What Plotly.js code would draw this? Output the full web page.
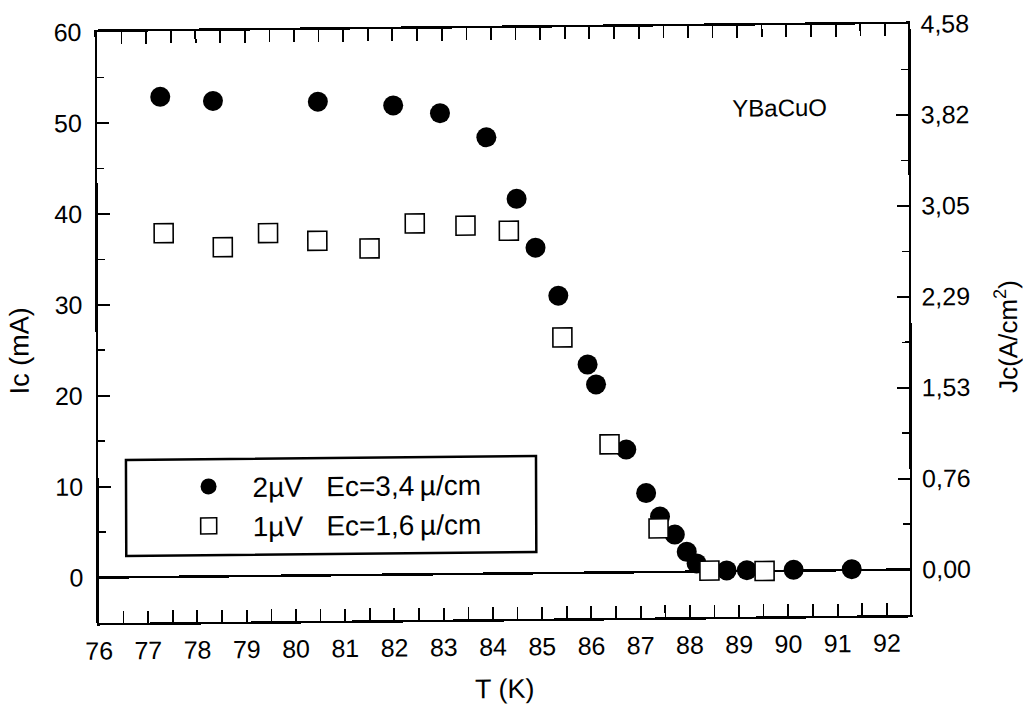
<!DOCTYPE html>
<html>
<head>
<meta charset="utf-8">
<script src="https://cdn.plot.ly/plotly-3.0.1.min.js"></script>
<style>
  html, body { margin: 0; padding: 0; background: #fff; overflow: hidden; }
  #chart { width: 1023px; height: 704px; transform-origin: 503.6px 323.5px; transform: matrix(1, -0.0099, 0.0034, 1, 0, 0); }
</style>
</head>
<body>
<div id="chart"></div>
<script>
// Data
const circlesT = [77.28, 78.35, 80.48, 82.01, 82.96, 83.90, 84.51, 84.89, 85.35, 85.94, 86.11, 86.72, 87.12, 87.40, 87.70, 87.94, 88.14, 88.75, 89.16, 90.11, 91.29];
const circlesIc = [52.8, 52.3, 52.1, 51.6, 50.7, 48.0, 41.2, 35.8, 30.5, 22.9, 20.7, 13.5, 8.7, 6.1, 4.1, 2.2, 0.9, 0.1, 0.1, 0.1, 0.1];
const squaresT = [77.34, 78.54, 79.46, 80.46, 81.52, 82.44, 83.47, 84.35, 85.43, 86.38, 87.37, 88.40, 89.52];
const squaresIc = [37.8, 36.2, 37.7, 36.8, 35.9, 38.6, 38.3, 37.7, 25.9, 14.1, 4.8, 0.1, 0.0];

const xTickVals = [76, 77, 78, 79, 80, 81, 82, 83, 84, 85, 86, 87, 88, 89, 90, 91, 92];
const leftTickVals = [0, 10, 20, 30, 40, 50, 60];
const rightTickText = ['0,00', '0,76', '1,53', '2,29', '3,05', '3,82', '4,58'];

const seriesNames = ['2\u00B5V&#160;&#160;&#160;Ec=3,4\u2009\u00B5/cm', '1\u00B5V&#160;&#160;&#160;Ec=1,6\u2009\u00B5/cm'];

const FONT = 'Arial, "Liberation Sans", Helvetica, sans-serif';

const traces = [
  {
    x: circlesT, y: circlesIc, type: 'scatter', mode: 'markers',
    name: seriesNames[0], xaxis: 'x', yaxis: 'y',
    marker: { symbol: 'circle', size: 20, color: '#000', line: { width: 0 } },
    legendgroup: 'a'
  },
  {
    x: squaresT, y: squaresIc, type: 'scatter', mode: 'markers',
    name: seriesNames[1], xaxis: 'x', yaxis: 'y2',
    marker: { symbol: 'square', size: 19, color: '#fff', line: { width: 1.6, color: '#000' } },
    legendgroup: 'b'
  }
];

const axisCommon = {
  showgrid: false, zeroline: false, showline: true, linecolor: '#000', linewidth: 2.5,
  ticks: 'inside', ticklen: 12, tickwidth: 2, tickcolor: '#000',
  tickfont: { family: FONT, size: 25, color: '#000' }
};

const layout = {
  width: 1023, height: 704,
  paper_bgcolor: '#fff', plot_bgcolor: '#fff',
  margin: { l: 98, r: 114, t: 28, b: 85 },
  font: { family: FONT, color: '#000' },
  showlegend: true,
  legend: {
    x: 0.0814, y: 0.271, xanchor: 'left', yanchor: 'top',
    bgcolor: 'rgba(255,255,255,0)', borderwidth: 0,
    font: { family: FONT, size: 28, color: '#000' },
    itemwidth: 78, tracegroupgap: 0, traceorder: 'grouped'
  },
  shapes: [
    { type: 'rect', xref: 'paper', yref: 'paper', x0: 0.0339, x1: 0.5395, y0: 0.1129, y1: 0.2753,
      line: { color: '#000', width: 2.5 }, fillcolor: '#fff', layer: 'below' }
  ],
  xaxis: Object.assign({}, axisCommon, {
    range: [76, 92.47], tickvals: xTickVals, mirror: 'allticks', ticklabelstandoff: 4,
    minor: { dtick: 0.5, tick0: 76, ticks: 'inside', ticklen: 6, tickwidth: 1.5, tickcolor: '#000' },
    title: { text: 'T (K)', font: { family: FONT, size: 27, color: '#000' }, standoff: 21 }
  }),
  yaxis: Object.assign({}, axisCommon, {
    range: [-5, 60], tickvals: leftTickVals, mirror: false, ticklabelstandoff: 8,
    zeroline: true, zerolinecolor: '#000', zerolinewidth: 2.5,
    minor: { dtick: 5, tick0: 0, ticks: 'inside', ticklen: 7, tickwidth: 1.5, tickcolor: '#000' },
    title: { text: 'Ic (mA)&#160;&#160;&#160;&#160;&#160;&#160;', font: { family: FONT, size: 27, color: '#000' }, standoff: 18 }
  }),
  yaxis2: Object.assign({}, axisCommon, {
    range: [-5, 60], overlaying: 'y', side: 'right', anchor: 'x', ticklabelstandoff: 5,
    tickvals: leftTickVals, ticktext: rightTickText,
    minor: { dtick: 5, tick0: 0, ticks: 'inside', ticklen: 7, tickwidth: 1.5, tickcolor: '#000' },
    title: { text: 'Jc(A/cm<sup>2</sup>)&#160;&#160;&#160;&#160;&#160;', font: { family: FONT, size: 26, color: '#000' }, standoff: 30 }
  }),
  annotations: [
    { xref: 'paper', yref: 'paper', x: 0.902, y: 0.86, xanchor: 'right', yanchor: 'middle',
      text: 'YBaCuO', showarrow: false, font: { family: FONT, size: 24, color: '#000' } }
  ]
};

Plotly.newPlot('chart', traces, layout, { staticPlot: true, displayModeBar: false });
</script>
</body>
</html>
